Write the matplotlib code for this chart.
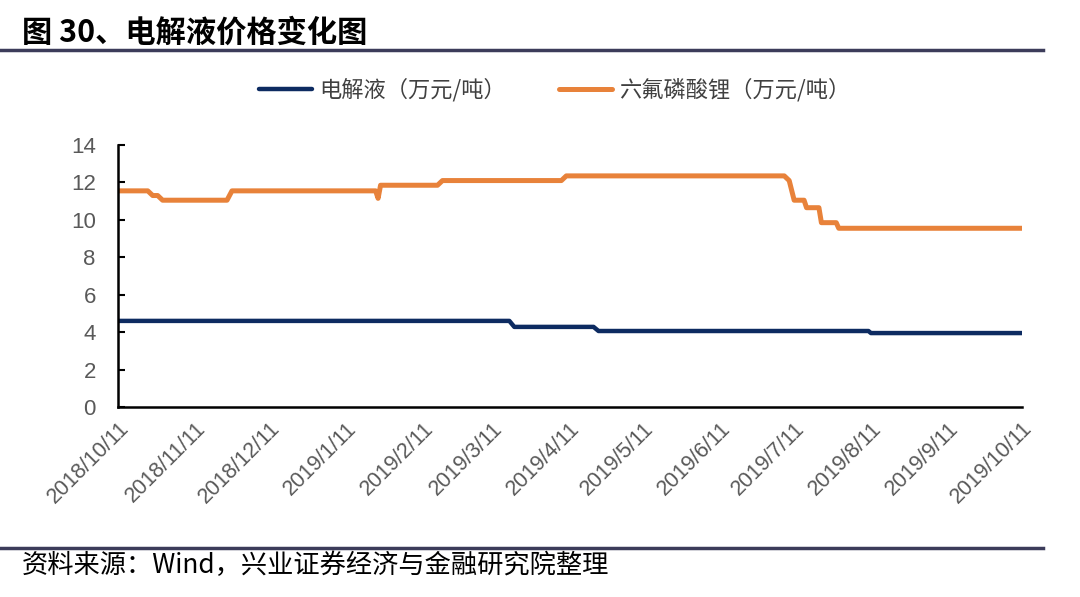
import matplotlib.pyplot as plt
import numpy as np
from datetime import datetime

plt.rcParams['font.family'] = ['Noto Sans CJK SC', 'DejaVu Sans']

# 六氟磷酸锂 (万元/吨), change points
lipf6_dates = ['2018-10-11', '2018-10-23', '2018-10-25', '2018-10-27', '2018-10-29',
               '2018-11-24', '2018-11-26', '2019-01-23', '2019-01-24', '2019-01-25',
               '2019-02-17', '2019-02-19', '2019-04-08', '2019-04-10', '2019-07-07',
               '2019-07-09', '2019-07-11', '2019-07-15', '2019-07-16', '2019-07-21',
               '2019-07-22', '2019-07-28', '2019-07-29', '2019-10-11']
lipf6_vals = [11.55, 11.55, 11.3, 11.3, 11.05,
              11.05, 11.55, 11.55, 11.15, 11.85,
              11.85, 12.1, 12.1, 12.35, 12.35,
              12.1, 11.05, 11.05, 10.65, 10.65,
              9.85, 9.85, 9.55, 9.55]

# 电解液 (万元/吨)
elec_dates = ['2018-10-11', '2019-03-18', '2019-03-20', '2019-04-21',
              '2019-04-23', '2019-08-10', '2019-08-11', '2019-10-11']
elec_vals = [4.6, 4.6, 4.28, 4.28, 4.06, 4.06, 3.95, 3.95]

tick_dates = ['2018-10-11', '2018-11-11', '2018-12-11', '2019-01-11', '2019-02-11',
              '2019-03-11', '2019-04-11', '2019-05-11', '2019-06-11', '2019-07-11',
              '2019-08-11', '2019-09-11', '2019-10-11']
tick_labels = ['2018/10/11', '2018/11/11', '2018/12/11', '2019/1/11', '2019/2/11',
               '2019/3/11', '2019/4/11', '2019/5/11', '2019/6/11', '2019/7/11',
               '2019/8/11', '2019/9/11', '2019/10/11']

def to_dt(lst):
    return [datetime.strptime(s, '%Y-%m-%d') for s in lst]

fig = plt.figure(figsize=(10.8, 5.97), dpi=100)
ax = fig.add_axes([0.1093, 0.3183, 0.8370, 0.4388])

ax.plot(to_dt(elec_dates), elec_vals, color='#0d2b61', lw=3.2,
        solid_capstyle='round', label='电解液（万元/吨）')
ax.plot(to_dt(lipf6_dates), lipf6_vals, color='#e8823a', lw=3.6,
        solid_capstyle='round', label='六氟磷酸锂（万元/吨）')

ax.set_ylim(0, 14)
ax.set_yticks(np.arange(0, 15, 2))
ax.set_xlim(to_dt(['2018-10-11'])[0], to_dt(['2019-10-11'])[0])
ax.set_xticks(to_dt(tick_dates))
ax.set_xticklabels(tick_labels, rotation=45, ha='right', rotation_mode='anchor')

for s in ['top', 'right']:
    ax.spines[s].set_visible(False)
for s in ['left', 'bottom']:
    ax.spines[s].set_linewidth(1.8)
    ax.spines[s].set_color('black')

ax.tick_params(axis='y', direction='in', length=5, width=1.5, labelsize=16,
               labelcolor='#595959', pad=16)
ax.tick_params(axis='x', length=0, labelsize=15.5, labelcolor='#595959', pad=8)
for lab in ax.get_xticklabels() + ax.get_yticklabels():
    lab.set_family(['Liberation Sans', 'DejaVu Sans'])

leg = ax.legend(loc='center', bbox_to_anchor=(0.483, 1.21), ncol=2, frameon=False,
                fontsize=16, handlelength=2.4, handletextpad=0.3, columnspacing=2.4)
for t in leg.get_texts():
    t.set_color('#404040')

# title and source with rules
fig.text(0.02, 0.945, '图 30、电解液价格变化图', fontsize=21.8, fontweight='bold',
         va='center', ha='left', color='black')
fig.add_artist(plt.Line2D([0, 0.966], [0.917, 0.917], color='#3c3c5a', lw=2.5))
fig.add_artist(plt.Line2D([0, 0.966], [0.082, 0.082], color='#3c3c5a', lw=2.5))
fig.text(0.02, 0.052, '资料来源：Wind，兴业证券经济与金融研究院整理', fontsize=18.9,
         va='center', ha='left', color='black')

fig.savefig('out.png', dpi=100)
